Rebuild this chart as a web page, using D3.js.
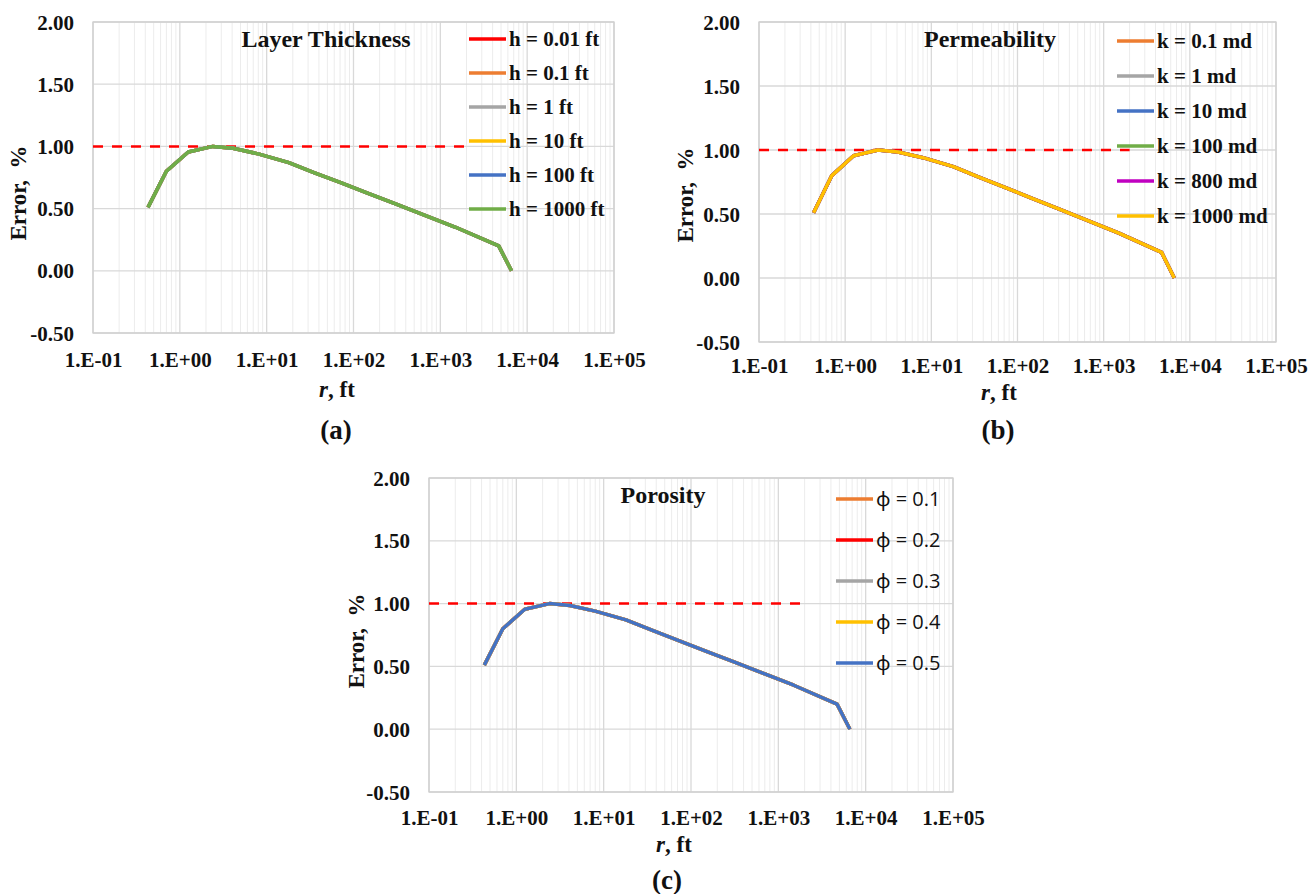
<!DOCTYPE html>
<html>
<head>
<meta charset="utf-8">
<script src="https://cdn.jsdelivr.net/npm/d3@7"></script>
<style>
  body { margin: 0; background: #fff; }
  svg { display: block; }
</style>
</head>
<body>
<div id="plot"></div>
<script>
var parentId = "plot", parent = "#" + parentId;

/*------------------------------------------*/
/*            Data                          */
/*------------------------------------------*/

var xTicks = [0.1, 1, 10, 100, 1000, 10000, 100000];
var xTickLabels = ["1.E-01", "1.E+00", "1.E+01", "1.E+02", "1.E+03", "1.E+04", "1.E+05"];
var yTicks = [-0.5, 0, 0.5, 1, 1.5, 2];
var yTickLabels = ["-0.50", "0.00", "0.50", "1.00", "1.50", "2.00"];

// radius (ft) and error (%) -- all cases overlap
var rFt      = [0.43, 0.7, 1.25, 2.4, 4.1, 8, 18, 35, 70, 150, 300, 700, 1500, 4700, 6600];
var errorPct = [0.51, 0.80, 0.955, 1.0, 0.985, 0.94, 0.87, 0.79, 0.71, 0.62, 0.54, 0.44, 0.35, 0.20, 0.0];

// 1 % reference line
var limitR   = [0.1, 2000];
var limitErr = [1, 1];

var thicknessLabels = ["h = 0.01 ft", "h = 0.1 ft", "h = 1 ft", "h = 10 ft", "h = 100 ft", "h = 1000 ft"];
var thicknessColors = ["#ff0000", "#ed7d31", "#a5a5a5", "#ffc000", "#4472c4", "#70ad47"];

var permLabels = ["k = 0.1 md", "k = 1 md", "k = 10 md", "k = 100 md", "k = 800 md", "k = 1000 md"];
var permColors = ["#ed7d31", "#a5a5a5", "#4472c4", "#70ad47", "#c000c0", "#ffc000"];

var porosityLabels = ["\u03d5 = 0.1", "\u03d5 = 0.2", "\u03d5 = 0.3", "\u03d5 = 0.4", "\u03d5 = 0.5"];
var porosityColors = ["#ed7d31", "#ff0000", "#a5a5a5", "#ffc000", "#4472c4"];

/*------------------------------------------*/
/*            Layout                        */
/*------------------------------------------*/

var serif = "'Liberation Serif', 'Times New Roman', serif";
var sans = "'Open Sans', 'Noto Sans', sans-serif";

var panels = [
  { left: 93, right: 614, top: 22, bottom: 333, title: "Layer Thickness", titleX: 326, titleY: 47,
    legX: 469, legY: 39, legStep: 34, legFont: serif, legWeight: "bold", legSize: 21,
    labels: thicknessLabels, colors: thicknessColors, tickY: 34,
    tag: "(a)", tagX: 336, tagY: 439, xTitleX: 337, xTitleY: 397, yTitleX: 26, yTitleY: 193 },
  { left: 759, right: 1276, top: 22, bottom: 342, title: "Permeability", titleX: 990, titleY: 47,
    legX: 1117, legY: 41, legStep: 35, legFont: serif, legWeight: "bold", legSize: 21,
    labels: permLabels, colors: permColors, tickY: 31,
    tag: "(b)", tagX: 998, tagY: 439, xTitleX: 999, xTitleY: 400, yTitleX: 693, yTitleY: 195 },
  { left: 429, right: 953, top: 478, bottom: 792, title: "Porosity", titleX: 663, titleY: 503,
    legX: 836, legY: 499, legStep: 41, legFont: sans, legWeight: "normal", legSize: 20,
    labels: porosityLabels, colors: porosityColors, tickY: 33,
    tag: "(c)", tagX: 667, tagY: 889, xTitleX: 674, xTitleY: 852, yTitleX: 364, yTitleY: 641 }
];

var svg = d3.select(parent).append("svg")
  .attr("width", 1311)
  .attr("height", 894);

/*------------------------------------------*/
/*            Panels                        */
/*------------------------------------------*/

function drawPanel(p) {

  var x = d3.scaleLog().domain([0.1, 100000]).range([p.left, p.right]),
      y = d3.scaleLinear().domain([-0.5, 2]).range([p.bottom, p.top]);

  var g = svg.append("g");

  // minor vertical grid (2..9 in every decade)
  var minors = [];
  xTicks.slice(0, -1).forEach(function(d) {
    for (var m = 2; m <= 9; m++) minors.push(d * m);
  });

  g.selectAll(".minor")
    .data(minors)
    .enter().append("line")
    .attr("x1", function(d) { return x(d); })
    .attr("x2", function(d) { return x(d); })
    .attr("y1", p.top)
    .attr("y2", p.bottom)
    .style("stroke", "#ececec")
    .style("stroke-width", 1);

  g.selectAll(".hgrid")
    .data(yTicks)
    .enter().append("line")
    .attr("x1", p.left)
    .attr("x2", p.right)
    .attr("y1", function(d) { return y(d); })
    .attr("y2", function(d) { return y(d); })
    .style("stroke", "#d9d9d9")
    .style("stroke-width", 1.3);

  g.selectAll(".vgrid")
    .data(xTicks)
    .enter().append("line")
    .attr("x1", function(d) { return x(d); })
    .attr("x2", function(d) { return x(d); })
    .attr("y1", p.top)
    .attr("y2", p.bottom)
    .style("stroke", "#d9d9d9")
    .style("stroke-width", 1.3);

  // plot border
  g.append("rect")
    .attr("x", p.left)
    .attr("y", p.top)
    .attr("width", p.right - p.left)
    .attr("height", p.bottom - p.top)
    .style("fill", "none")
    .style("stroke", "#d0d0d0")
    .style("stroke-width", 1.3);

  // axes (labels only)
  var xAxis = d3.axisBottom(x)
    .tickValues(xTicks)
    .tickSize(0)
    .tickFormat(function(d, i) { return xTickLabels[i]; });

  var gx = g.append("g")
    .attr("transform", "translate(0," + (p.bottom + p.tickY) + ")")
    .call(xAxis);
  gx.select(".domain").remove();
  gx.selectAll("text")
    .attr("y", 0).attr("dy", 0)
    .style("font-family", serif)
    .style("font-weight", "bold")
    .style("font-size", "21px")
    .style("fill", "#111");

  var yAxis = d3.axisLeft(y)
    .tickValues(yTicks)
    .tickSize(0)
    .tickFormat(function(d, i) { return yTickLabels[i]; });

  var gy = g.append("g")
    .attr("transform", "translate(" + (p.left - 19) + ",0)")
    .call(yAxis);
  gy.select(".domain").remove();
  gy.selectAll("text")
    .attr("x", 0).attr("dy", "0.34em")
    .style("font-family", serif)
    .style("font-weight", "bold")
    .style("font-size", "21px")
    .style("fill", "#111");

  var line = d3.line()
    .x(function(d) { return x(d[0]); })
    .y(function(d) { return y(d[1]); });

  // dashed 1 % line
  g.append("path")
    .datum(d3.zip(limitR, limitErr))
    .attr("d", line)
    .style("fill", "none")
    .style("stroke", "#ff0000")
    .style("stroke-width", 2.5)
    .style("stroke-dasharray", "10,9");

  // every case draws the same curve; last one ends on top
  p.colors.forEach(function(c) {
    g.append("path")
      .datum(d3.zip(rFt, errorPct))
      .attr("d", line)
      .style("fill", "none")
      .style("stroke", c)
      .style("stroke-width", 3.5)
      .style("stroke-linejoin", "round");
  });

  // title
  g.append("text")
    .attr("x", p.titleX)
    .attr("y", p.titleY)
    .attr("text-anchor", "middle")
    .style("font-family", serif)
    .style("font-weight", "bold")
    .style("font-size", "24px")
    .style("fill", "#111")
    .text(p.title);

  // legend
  var leg = g.selectAll(".leg")
    .data(p.labels)
    .enter().append("g")
    .attr("transform", function(d, i) { return "translate(" + p.legX + "," + (p.legY + i * p.legStep) + ")"; });

  leg.append("line")
    .attr("x1", 0).attr("x2", 37)
    .attr("y1", 0).attr("y2", 0)
    .style("stroke", function(d, i) { return p.colors[i]; })
    .style("stroke-width", 3.5);

  leg.append("text")
    .attr("x", 40)
    .attr("dy", "0.35em")
    .style("font-family", p.legFont)
    .style("font-weight", p.legWeight)
    .style("font-size", p.legSize + "px")
    .style("fill", "#111")
    .text(function(d) { return d; });

  // axis titles
  var xt = g.append("text")
    .attr("x", p.xTitleX)
    .attr("y", p.xTitleY)
    .attr("text-anchor", "middle")
    .style("font-family", serif)
    .style("font-weight", "bold")
    .style("font-size", "23px")
    .style("fill", "#111");
  xt.append("tspan").style("font-style", "italic").text("r");
  xt.append("tspan").text(", ft");

  g.append("text")
    .attr("transform", "translate(" + p.yTitleX + "," + p.yTitleY + ") rotate(-90)")
    .attr("text-anchor", "middle")
    .style("font-family", serif)
    .style("font-weight", "bold")
    .style("font-size", "23px")
    .style("fill", "#111")
    .style("white-space", "pre")
    .text("Error,  %");

  // panel tag
  g.append("text")
    .attr("x", p.tagX)
    .attr("y", p.tagY)
    .attr("text-anchor", "middle")
    .style("font-family", serif)
    .style("font-weight", "bold")
    .style("font-size", "27px")
    .style("fill", "#111")
    .text(p.tag);
}

panels.forEach(drawPanel);
</script>
</body>
</html>
